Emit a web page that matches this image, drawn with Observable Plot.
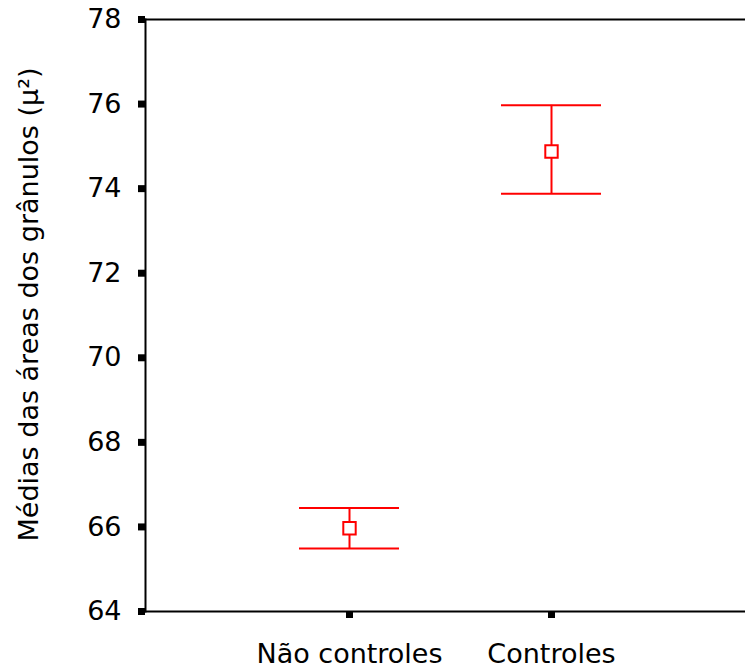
<!DOCTYPE html>
<html>
<head>
<meta charset="utf-8">
<script src="https://cdn.jsdelivr.net/npm/d3@7"></script>
<script src="https://cdn.jsdelivr.net/npm/@observablehq/plot@0.6"></script>
<style>
  html, body { margin: 0; padding: 0; background: #fff; }
  svg { display: block; }
</style>
</head>
<body>
<div id="chart"></div>
<script>
const groups = ["Não controles", "Controles"];
const means = [65.97, 74.88];
const lows = [65.49, 73.88];
const highs = [66.45, 75.97];
const yTicks = [64, 66, 68, 70, 72, 74, 76, 78];
const yTitle = "Médias das áreas dos grânulos (μ²)";

const data = groups.map((g, i) => ({group: g, mean: means[i], low: lows[i], high: highs[i]}));

const font = "DejaVu Sans, Verdana, sans-serif";
const red = "#ff0000";

const chart = Plot.plot({
  width: 745,
  height: 672,
  marginLeft: 145,
  marginRight: 0,
  marginTop: 19,
  marginBottom: 61,
  style: {fontFamily: font, fontSize: "27px", color: "#000", background: "#fff"},
  x: {type: "band", domain: groups, paddingInner: 0.505, paddingOuter: 0.7376, align: 0.517, label: null},
  y: {domain: [64, 78], label: null},
  marks: [
    Plot.ruleY([64, 78], {stroke: "#000", strokeWidth: 2}),
    Plot.frame({anchor: "left", stroke: "#000", strokeWidth: 2}),
    Plot.axisY({ticks: yTicks, tickSize: 7, strokeWidth: 7, tickPadding: 17, fontSize: 27, label: null, tickFormat: d => String(d)}),
    Plot.axisX({tickSize: 7, strokeWidth: 7, tickPadding: 25, fontSize: 27, label: null}),
    Plot.text([yTitle], {frameAnchor: "left", dx: -127, dy: -11, rotate: -90, fontSize: 27, textAnchor: "middle", lineAnchor: "top", fill: "#000"}),
    Plot.ruleX(data, {x: "group", y1: "low", y2: "high", stroke: red, strokeWidth: 2}),
    Plot.tickY(data, {x: "group", y: "low", stroke: red, strokeWidth: 2}),
    Plot.tickY(data, {x: "group", y: "high", stroke: red, strokeWidth: 2}),
    Plot.dot(data, {x: "group", y: "mean", symbol: "square", r: 7, stroke: red, fill: "#fff", strokeWidth: 2})
  ]
});
document.getElementById("chart").appendChild(chart);
</script>
</body>
</html>
